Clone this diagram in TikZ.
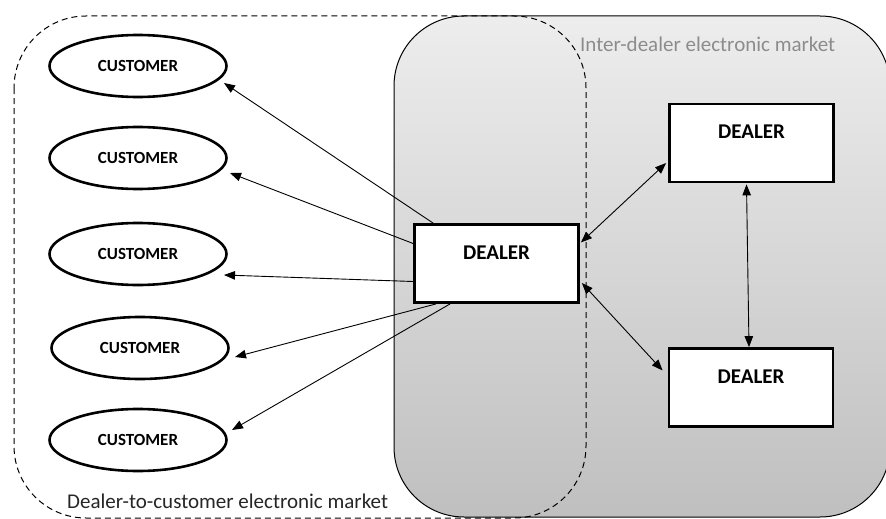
\documentclass[tikz,border=0pt]{standalone}
\usepackage{fontspec}
\setmainfont{Carlito}
\usetikzlibrary{shapes.geometric,arrows.meta}
\begin{document}
\begin{tikzpicture}[x=1pt,y=-1pt,
  custnode/.style={ellipse,draw,line width=2.6pt,fill=white,minimum width=177pt,minimum height=62pt,inner sep=0pt,font=\fontsize{17}{20}\selectfont\bfseries},
  dealnode/.style={rectangle,draw,line width=2.8pt,fill=white,minimum width=164pt,minimum height=78pt,inner sep=0pt,text height=14pt,text depth=23pt,font=\fontsize{21}{25}\selectfont\bfseries},
  link/.style={line width=0.9pt,-{Triangle[length=11pt,width=8.5pt]}},
  dlink/.style={line width=0.9pt,{Triangle[length=11pt,width=8.5pt]}-{Triangle[length=11pt,width=8.5pt]}},
  mktlabel/.style={font=\fontsize{21}{25}\selectfont,inner sep=0pt,anchor=base west}]
\useasboundingbox (0,0) rectangle (886,519);
\clip (0,0) rectangle (886,519);
% inter-dealer market
\path[draw,line width=1pt,rounded corners=70pt,top color=black!7,bottom color=black!25] (394,16) rectangle (890,517);
% dealer-to-customer market
\draw[line width=1pt,dash pattern=on 6pt off 4pt,rounded corners=72pt] (14,16) rectangle (586,518);
\node[mktlabel,text=black!45] (lab1) at (580,52) {Inter-dealer electronic market};
\node[mktlabel,text=black!85] (lab2) at (67,508) {Dealer-to-customer electronic market};
% customers
\node[custnode] (c1) at (138,66) {CUSTOMER};
\node[custnode] (c2) at (138,158) {CUSTOMER};
\node[custnode] (c3) at (138,254) {CUSTOMER};
\node[custnode] (c4) at (140,348) {CUSTOMER};
\node[custnode] (c5) at (138,440) {CUSTOMER};
% dealers
\node[dealnode] (d1) at (496.5,263.5) {DEALER};
\node[dealnode] (d2) at (751.5,143) {DEALER};
\node[dealnode] (d3) at (751,387.5) {DEALER};
% dealer to customers
\draw[link] ([xshift=20pt]d1.north west) -- ([xshift=86pt,yshift=-17pt]c1.center);
\draw[link] ([yshift=20pt]d1.west) -- ([xshift=92pt,yshift=-15pt]c2.center);
\draw[link] ([yshift=-18pt]d1.west) -- ([xshift=86pt,yshift=-21pt]c3.center);
\draw[link] ([xshift=23pt]d1.south west) -- ([xshift=95pt,yshift=-9pt]c4.center);
\draw[link] ([xshift=37pt]d1.south west) -- ([xshift=94pt,yshift=10pt]c5.center);
% inter-dealer
\draw[dlink] ([xshift=1pt,yshift=21pt]d1.east) -- ([xshift=-2pt,yshift=-20pt]d2.west);
\draw[dlink] ([xshift=2pt,yshift=-19.5pt]d1.east) -- ([xshift=-5pt,yshift=17pt]d3.west);
\draw[dlink] ([xshift=-5pt,yshift=-1pt]d2.south) -- ([xshift=-2pt]d3.north);
\end{tikzpicture}
\end{document}
